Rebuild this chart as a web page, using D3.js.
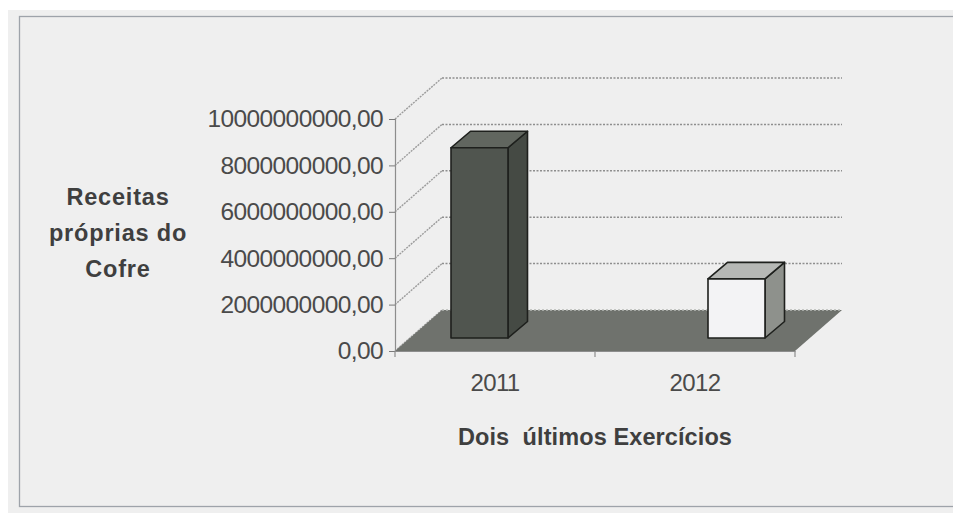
<!DOCTYPE html>
<html>
<head>
<meta charset="utf-8">
<script src="https://cdn.jsdelivr.net/npm/d3@7"></script>
<style>
  html, body { margin: 0; padding: 0; background: #ffffff; }
  svg { display: block; }
  text { font-family: "Liberation Sans", Arial, sans-serif; }
</style>
</head>
<body>
<svg id="chart" width="953" height="515"></svg>
<script>
// Receitas próprias do Cofre nos dois últimos exercícios
const categories = ["2011", "2012"];
const values = [8200000000, 2550000000];
const yTickValues = [0, 2000000000, 4000000000, 6000000000, 8000000000, 10000000000];
const yTitleLines = ["Receitas", "próprias do", "Cofre"];
const xTitle = "Dois  últimos Exercícios";

const barFronts = ["#50554f", "#f3f3f5"];
const barTops = ["#61665f", "#b6b8b5"];
const barSides = ["#454a44", "#8e918c"];

const svg = d3.select("#chart");

// panel background and frame
svg.append("rect").attr("x", 8).attr("y", 10).attr("width", 945).attr("height", 503).attr("fill", "#efefef");
svg.append("rect").attr("x", 19.5).attr("y", 16.5).attr("width", 960).attr("height", 490)
  .attr("fill", "none").attr("stroke", "#9ea3aa").attr("stroke-width", 1.3);

// plot geometry: front plane of the 3D box and its depth offset
const x0 = 395, x1 = 795;
const depth = { dx: 47, dy: -41 };
const barDepth = { dx: 19.5, dy: -16.5 };
const barShift = { dx: 16, dy: -13 };

const y = d3.scaleLinear().domain([0, 10000000000]).range([351, 119]);
const xBand = d3.scaleBand().domain(categories).range([x0, x1]);
const xBar = d3.scalePoint().domain(categories).range([479.5, 736.5]);
const barWidth = 57;

const fmt = v => v.toFixed(2).replace(".", ",");

// back-wall gridlines
svg.append("g").selectAll("line").data(yTickValues.filter(t => t > 0)).join("line")
  .attr("x1", x0 + depth.dx).attr("x2", x1 + depth.dx)
  .attr("y1", t => y(t) + depth.dy).attr("y2", t => y(t) + depth.dy)
  .attr("stroke", "#8e8e8e").attr("stroke-width", 1.5).attr("stroke-dasharray", "2,1.5");

// side-wall diagonals
svg.append("g").selectAll("line").data(yTickValues).join("line")
  .attr("x1", x0).attr("y1", t => y(t))
  .attr("x2", x0 + depth.dx).attr("y2", t => y(t) + depth.dy)
  .attr("stroke", "#9c9c9c").attr("stroke-width", 1.4).attr("stroke-dasharray", "2,1");

// floor
const fy = y(0);
svg.append("polygon")
  .attr("points", [[x0, fy], [x1, fy], [x1 + depth.dx, fy + depth.dy], [x0 + depth.dx, fy + depth.dy]].join(" "))
  .attr("fill", "#6f726d");
svg.append("line")
  .attr("x1", x0 + depth.dx).attr("x2", x1 + depth.dx)
  .attr("y1", fy + depth.dy).attr("y2", fy + depth.dy)
  .attr("stroke", "#b8bab6").attr("stroke-width", 1.6).attr("stroke-dasharray", "2,2");

// value axis
const yAxis = d3.axisLeft(y).tickValues(yTickValues).tickFormat(fmt).tickSize(6).tickPadding(6);
const gy = svg.append("g").attr("transform", `translate(${x0},0)`).call(yAxis);
gy.select(".domain").attr("stroke", "#8d8d8d").attr("stroke-width", 1.2);
gy.selectAll(".tick line").attr("stroke", "#7a7a7a");
gy.selectAll(".tick text").attr("font-size", 24.5).attr("letter-spacing", -0.6).attr("fill", "#4a4a4a")
  .attr("font-family", "'Liberation Sans', Arial, sans-serif");

// category axis
const xAxis = d3.axisBottom(xBand).tickSize(0).tickPadding(23);
const gx = svg.append("g").attr("transform", `translate(0,${fy})`).call(xAxis);
gx.select(".domain").attr("stroke", "#8d8d8d").attr("stroke-width", 1.2);
gx.selectAll(".tick text").attr("font-size", 24).attr("letter-spacing", -0.6).attr("fill", "#4a4a4a")
  .attr("font-family", "'Liberation Sans', Arial, sans-serif");
const edges = categories.map(c => xBand(c)).concat([xBand(categories[categories.length - 1]) + xBand.bandwidth()]);
svg.append("g").selectAll("line").data(edges).join("line")
  .attr("x1", d => d).attr("x2", d => d).attr("y1", fy).attr("y2", fy + 6)
  .attr("stroke", "#8d8d8d").attr("stroke-width", 1.2);

// 3D columns
const bars = svg.append("g").selectAll("g").data(categories.map((c, i) => ({ c, v: values[i], i }))).join("g");
bars.each(function (d) {
  const g = d3.select(this);
  const left = xBar(d.c) - barWidth / 2;
  const right = left + barWidth;
  const top = y(d.v) + barShift.dy;
  const bottom = y(0) + barShift.dy;
  const bx = barDepth.dx, by = barDepth.dy;
  const stroke = { stroke: "#1e201d", "stroke-width": 1.6, "stroke-linejoin": "round" };
  const face = (pts, fill) => {
    const p = g.append("polygon").attr("points", pts.join(" ")).attr("fill", fill);
    Object.entries(stroke).forEach(([k, v]) => p.attr(k, v));
  };
  face([[right, top], [right + bx, top + by], [right + bx, bottom + by], [right, bottom]], barSides[d.i]);
  face([[left, top], [right, top], [right + bx, top + by], [left + bx, top + by]], barTops[d.i]);
  face([[left, top], [right, top], [right, bottom], [left, bottom]], barFronts[d.i]);
});

// axis titles
svg.append("text").attr("x", 118).attr("text-anchor", "middle")
  .attr("font-size", 23.5).attr("font-weight", "bold").attr("fill", "#3f3f3f").attr("letter-spacing", 0.8)
  .selectAll("tspan").data(yTitleLines).join("tspan")
  .attr("x", 118).attr("y", (d, i) => 205 + i * 36).text(d => d);

svg.append("text").attr("x", 595).attr("y", 445).attr("text-anchor", "middle")
  .attr("font-size", 23.5).attr("font-weight", "bold").attr("fill", "#3f3f3f").attr("letter-spacing", 0.1)
  .attr("xml:space", "preserve").style("white-space", "pre")
  .text(xTitle);
</script>
</body>
</html>
